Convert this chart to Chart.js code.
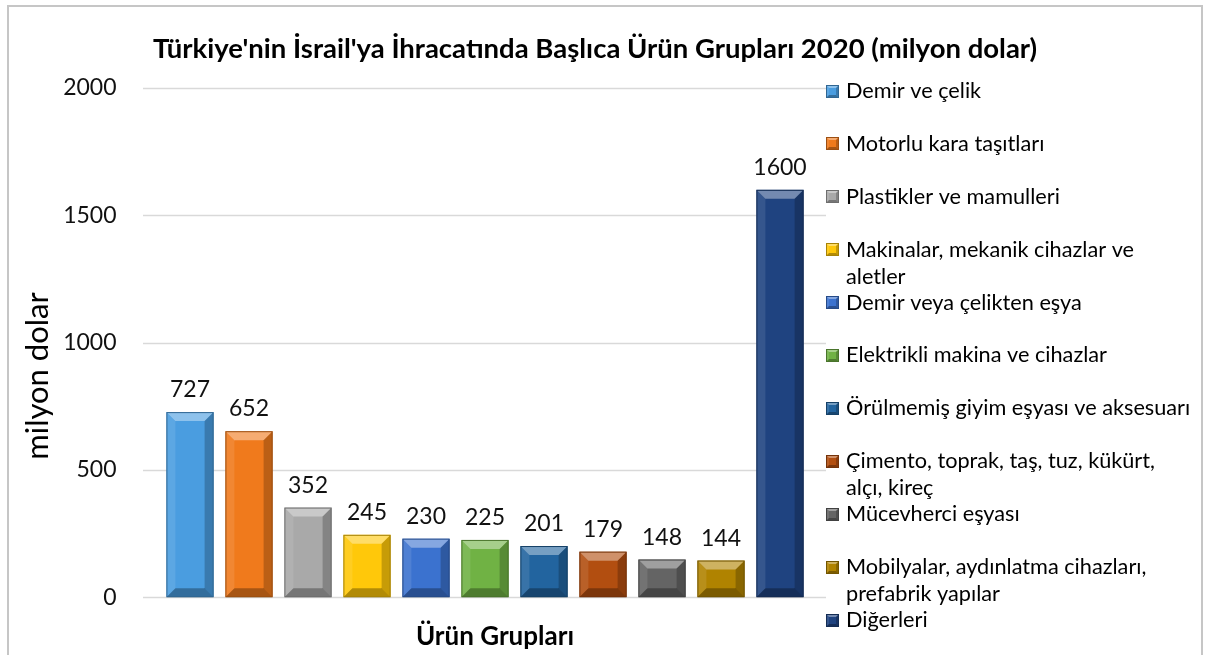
<!DOCTYPE html>
<html>
<head>
<meta charset="utf-8">
<script src="https://cdn.jsdelivr.net/npm/chart.js@4/dist/chart.umd.min.js"></script>
<style>
    body { margin: 0; background: #fff; }
    #wrap { position: relative; width: 1208px; height: 655px; overflow: hidden; }
    #frame { position: absolute; left: 7px; top: 5px; width: 1196px; height: 700px; border: 2px solid #c6c6c6; box-sizing: border-box; }
    canvas { position: absolute; left: 0; top: 0; }
</style>
</head>
<body>
<div id="wrap">
    <div id="frame"></div>
    <canvas id="chart" width="1208" height="655"></canvas>
</div>
<script>
const chartTitle = "Türkiye'nin İsrail'ya İhracatında Başlıca Ürün Grupları 2020 (milyon dolar)";
const xTitle = 'Ürün Grupları';
const yTitle = 'milyon dolar';

// legend text, already split the way the original wraps it
const legendLines = [
    ['Demir ve çelik'],
    ['Motorlu kara taşıtları'],
    ['Plastikler ve mamulleri'],
    ['Makinalar, mekanik cihazlar ve', 'aletler'],
    ['Demir veya çelikten eşya'],
    ['Elektrikli makina ve cihazlar'],
    ['Örülmemiş giyim eşyası ve aksesuarı'],
    ['Çimento, toprak, taş, tuz, kükürt,', 'alçı, kireç'],
    ['Mücevherci eşyası'],
    ['Mobilyalar, aydınlatma cihazları,', 'prefabrik yapılar'],
    ['Diğerleri']
];
const categories = legendLines.map(l => l.join(' '));
const values = [727, 652, 352, 245, 230, 225, 201, 179, 148, 144, 1600];
const barColors = ['#4a9de0', '#f07a1c', '#a9a9a9', '#ffc80a', '#3b72cf', '#70b244', '#22649f', '#b24e10', '#646464', '#b08300', '#1f4380'];
const yTicks = [0, 500, 1000, 1500, 2000];

const FONT = 'Lato, "Noto Sans", sans-serif';

function shade(hex, amt) {
    const n = parseInt(hex.slice(1), 16);
    let r = n >> 16, g = (n >> 8) & 255, b = n & 255;
    const f = c => Math.max(0, Math.min(255, Math.round(amt < 0 ? c * (1 + amt) : c + (255 - c) * amt)));
    return `rgb(${f(r)},${f(g)},${f(b)})`;
}

const gridPlugin = {
    id: 'extGrid',
    beforeDatasetsDraw(chart) {
        const { ctx, chartArea, scales: { y } } = chart;
        ctx.save();
        ctx.strokeStyle = '#d9d9d9';
        ctx.lineWidth = 1.5;
        y.ticks.forEach(t => {
            const py = Math.round(y.getPixelForValue(t.value)) + 0.5;
            ctx.beginPath();
            ctx.moveTo(chartArea.left - 17.5, py);
            ctx.lineTo(chartArea.right + 16.5, py);
            ctx.stroke();
        });
        ctx.restore();
    }
};

function bevelBox(ctx, l, t, r, b, color, d) {
    const poly = (pts, fill) => {
        ctx.beginPath();
        ctx.moveTo(pts[0][0], pts[0][1]);
        pts.slice(1).forEach(p => ctx.lineTo(p[0], p[1]));
        ctx.closePath();
        ctx.fillStyle = fill;
        ctx.fill();
    };
    poly([[l, t], [r, t], [r - d, t + d], [l + d, t + d]], 'rgba(255,255,255,0.38)');
    poly([[l, t], [l + d, t + d], [l + d, b - d], [l, b]], 'rgba(255,255,255,0.10)');
    poly([[r, t], [r, b], [r - d, b - d], [r - d, t + d]], 'rgba(0,0,0,0.22)');
    poly([[l, b], [l + d, b - d], [r - d, b - d], [r, b]], 'rgba(0,0,0,0.30)');
    ctx.strokeStyle = shade(color, -0.35);
    ctx.lineWidth = 1;
    ctx.strokeRect(l + 0.5, t + 0.5, r - l - 1, b - t - 1);
}

const bevelPlugin = {
    id: 'bevel',
    afterDatasetsDraw(chart) {
        const ctx = chart.ctx;
        ctx.save();
        chart.getDatasetMeta(0).data.forEach((bar, i) => {
            const { x, y, base, width } = bar.getProps(['x', 'y', 'base', 'width'], true);
            const l = x - width / 2, r = x + width / 2;
            bevelBox(ctx, l, y, r, base, barColors[i], Math.min(9, (base - y) / 2));
            // value label
            ctx.fillStyle = '#111';
            ctx.font = `23px ${FONT}`;
            ctx.textAlign = 'center';
            ctx.textBaseline = 'alphabetic';
            ctx.fillText(String(values[i]), x, y - 15);
        });
        ctx.restore();
    }
};

const textPlugin = {
    id: 'texts',
    afterDraw(chart) {
        const { ctx } = chart;
        ctx.save();
        ctx.fillStyle = '#000';
        ctx.textBaseline = 'middle';
        ctx.textAlign = 'center';

        ctx.font = `bold 27.5px ${FONT}`;
        ctx.fillText(chartTitle, 595, 49);

        ctx.font = `bold 26px ${FONT}`;
        ctx.fillText(xTitle, 495, 637);

        ctx.save();
        ctx.translate(38, 376);
        ctx.rotate(-Math.PI / 2);
        ctx.font = `31px ${FONT}`;
        ctx.fillText(yTitle, 0, 0);
        ctx.restore();

        // legend
        ctx.textAlign = 'left';
        ctx.font = `21.7px ${FONT}`;
        legendLines.forEach((lines, i) => {
            const cy = 91 + i * 52.9;
            const mx = 826, my = Math.round(cy - 6.5);
            ctx.fillStyle = barColors[i];
            ctx.fillRect(mx, my, 13, 13);
            bevelBox(ctx, mx, my, mx + 13, my + 13, barColors[i], 3);
            ctx.fillStyle = '#000';
            lines.forEach((txt, k) => ctx.fillText(txt, 846, cy + k * 27));
        });
        ctx.restore();
    }
};

new Chart(document.getElementById('chart'), {
    type: 'bar',
    data: {
        labels: categories,
        datasets: [{
            data: values,
            backgroundColor: barColors,
            borderWidth: 0,
            categoryPercentage: 1,
            barPercentage: 0.8
        }]
    },
    options: {
        responsive: false,
        animation: false,
        layout: { padding: { top: 88, right: 398.5, bottom: 56, left: 0 } },
        plugins: {
            legend: { display: false },
            tooltip: { enabled: false }
        },
        scales: {
            x: { display: false },
            y: {
                min: 0,
                max: 2000,
                afterBuildTicks: s => { s.ticks = yTicks.map(v => ({ value: v })); },
                afterFit: s => { s.width = 160.5; },
                ticks: { padding: 44, color: '#111', font: { family: FONT, size: 23 }, callback: v => String(v) },
                grid: { display: false, drawTicks: false },
                border: { display: false }
            }
        }
    },
    plugins: [gridPlugin, bevelPlugin, textPlugin]
});
</script>
</body>
</html>
